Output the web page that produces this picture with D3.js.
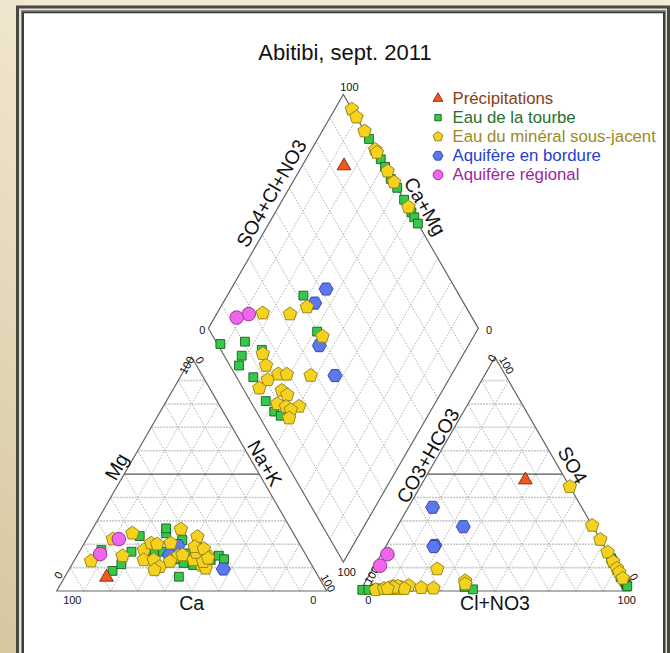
<!DOCTYPE html>
<html>
<head>
<meta charset="utf-8">
<script src="https://cdn.jsdelivr.net/npm/d3@7"></script>
<style>
  html, body { margin: 0; padding: 0; background: #fff; }
  svg { display: block; }
  text { font-family: "Liberation Sans", Arial, Helvetica, sans-serif; }
</style>
</head>
<body>
<svg id="chart" width="670" height="653"></svg>
<script>
// Piper diagram, Abitibi, September 2011.
// Each sample row: [Ca, Mg, Na+K, CO3+HCO3, SO4, Cl+NO3] in % of meq/L.
const groupNames = ["Précipitations", "Eau de la tourbe", "Eau du minéral sous-jacent",
                    "Aquifère en bordure", "Aquifère régional"];

const precipitations = [
  [78.6, 5.9, 15.5, 15.0, 47.5, 37.5]
];

const eauTourbe = [
  [57.5, 23.5, 19.0, 0.0, 13.0, 87.0],
  [55.5, 16.8, 27.7, 0.0, 14.0, 86.0],
  [52.3, 16.8, 30.9, 0.0, 12.0, 88.0],
  [42.6, 21.8, 35.6, 0.5, 6.0, 93.5],
  [44.0, 16.1, 39.9, 0.0, 9.0, 91.0],
  [43.9, 11.1, 45.0, 0.0, 4.0, 96.0],
  [36.3, 13.3, 50.4, 0.0, 3.0, 97.0],
  [32.4, 15.1, 52.5, 0.0, 2.5, 97.5],
  [31.2, 13.6, 55.2, 0.0, 2.0, 98.0],
  [47.1, 24.7, 28.2, 57.8, 0.7, 41.5],
  [47.0, 12.0, 41.0, 60.4, 1.8, 37.8],
  [74.7, 17.5, 7.8, 98.9, 0.5, 0.6],
  [75.0, 8.6, 16.4, 89.3, 1.0, 9.7],
  [58.5, 17.1, 24.4, 84.8, 1.5, 13.7],
  [70.3, 11.5, 18.2, 93.5, 0.5, 6.0],
  [63.9, 16.8, 19.3, 96.6, 0.5, 2.9],
  [46.1, 26.8, 27.1, 93.8, 1.0, 5.2],
  [49.6, 13.6, 36.8, 94.3, 0.5, 5.2],
  [51.7, 6.1, 42.2, 93.4, 1.0, 5.6],
  [40.5, 14.0, 45.5, 91.9, 1.0, 7.1]
];

const eauMineral = [
  [80.9, 12.8, 6.3, 0.0, 28.0, 72.0],
  [68.1, 22.2, 9.7, 0.0, 44.6, 55.4],
  [59.6, 24.7, 15.7, 0.0, 22.0, 78.0],
  [58.9, 17.5, 23.6, 0.0, 16.6, 83.4],
  [54.8, 20.4, 24.8, 0.0, 12.5, 87.5],
  [40.8, 26.4, 32.8, 0.0, 9.7, 90.3],
  [47.5, 15.0, 37.5, 0.0, 8.0, 92.0],
  [40.8, 11.0, 48.2, 0.0, 5.4, 94.6],
  [47.6, 20.4, 32.0, 58.9, 4.3, 36.8],
  [52.8, 20.0, 27.2, 66.7, 9.4, 23.9],
  [68.1, 15.0, 16.9, 76.6, 1.4, 22.0],
  [42.7, 13.3, 44.0, 59.5, 3.0, 37.5],
  [61.1, 13.3, 25.6, 85.3, 1.0, 13.7],
  [57.4, 13.3, 29.3, 86.6, 2.0, 11.4],
  [56.6, 10.4, 33.0, 89.0, 1.0, 10.0],
  [51.7, 12.6, 35.7, 83.9, 1.5, 14.6],
  [45.7, 15.4, 38.9, 80.8, 2.3, 16.9],
  [36.6, 15.4, 48.0, 72.2, 1.2, 26.6],
  [59.3, 9.0, 31.7, 93.9, 0.5, 5.6],
  [36.3, 23.2, 40.5, 86.1, 1.0, 12.9],
  [40.1, 16.4, 43.5, 85.0, 2.0, 13.0],
  [39.4, 18.9, 41.7, 90.6, 1.0, 8.4],
  [36.5, 18.0, 45.5, 88.0, 1.5, 10.5],
  [40.0, 9.7, 50.3, 83.1, 1.0, 15.9],
  [39.5, 12.5, 48.0, 86.9, 1.5, 11.6],
  [36.9, 14.0, 49.1, 89.3, 1.0, 9.7]
];

const aquifereBordure = [
  [45.4, 19.4, 35.2, 48.0, 27.5, 24.5],
  [50.6, 15.4, 34.0, 55.2, 35.8, 9.0],
  [37.4, 17.8, 44.8, 62.6, 19.5, 17.9],
  [33.6, 9.4, 57.0, 63.2, 19.0, 17.8]
];

const aquifereRegional = [
  [65.9, 22.2, 11.9, 82.0, 15.7, 2.3],
  [76.0, 15.8, 8.2, 87.2, 10.8, 2.0]
];

const tickLabels = ["0", "100"];
const axisTitles = {
  ca: "Ca", mg: "Mg", nak: "Na+K",
  hco3: "CO3+HCO3", so4: "SO4", cl: "Cl+NO3",
  anions: "SO4+Cl+NO3", cations: "Ca+Mg"
};

// ---- appearance -------------------------------------------------------
const groupStyle = [
  { data: precipitations,  shape: "triangle", fill: "#ee5a1e", stroke: "#7a2e0a", text: "#8a3c12" },
  { data: eauTourbe,       shape: "square",   fill: "#36c84a", stroke: "#1b5e20", text: "#26702a" },
  { data: eauMineral,      shape: "pentagon", fill: "#f4d21f", stroke: "#8e7d12", text: "#9c8a1c" },
  { data: aquifereBordure, shape: "hexagon",  fill: "#5b78f0", stroke: "#2c3f9e", text: "#2340d0" },
  { data: aquifereRegional,shape: "circle",   fill: "#f065ee", stroke: "#8e2a8c", text: "#a0269e" }
];
const drawOrder = [1, 3, 2, 4, 0];

const W = 670, H = 653;
const svg = d3.select("#chart");

// Geometry in triangle-side units; y grows upward.
const h = Math.sqrt(3) / 2;
const gap = 33.3 / 270;
const x = d3.scaleLinear().domain([0, 1]).range([56.7, 326.7]);
const y = d3.scaleLinear().domain([0, 1]).range([591, 321]);
const px = p => [x(p[0]), y(p[1])];

const rightOx = 1 + gap;
const dBottom = [1 + gap / 2, gap * h];
// a = SO4+Cl fraction, m = Ca+Mg fraction
const diamondPt = (a, m) => [dBottom[0] + (a - m) / 2, dBottom[1] + (a + m) * h];

const cationXY = r => px([r[2] / 100 + r[1] / 200, r[1] / 100 * h]);
const anionXY = r => px([rightOx + r[5] / 100 + r[4] / 200, r[4] / 100 * h]);
const diamondXY = r => px(diamondPt((r[4] + r[5]) / 100, (r[0] + r[1]) / 100));

// ---- background and frame ---------------------------------------------
const defs = svg.append("defs");
const grad = defs.append("linearGradient").attr("id", "bg")
  .attr("x1", "100%").attr("y1", "0%").attr("x2", "0%").attr("y2", "100%");
grad.append("stop").attr("offset", "0%").attr("stop-color", "#f2ead4");
grad.append("stop").attr("offset", "45%").attr("stop-color", "#f3e9d3");
grad.append("stop").attr("offset", "100%").attr("stop-color", "#d6c79f");

svg.append("rect").attr("width", W).attr("height", H).attr("fill", "url(#bg)");
svg.append("rect").attr("x", 17.5).attr("y", 7).attr("width", 651).attr("height", 700)
  .attr("fill", "#ebe2c9").attr("stroke", "#474747").attr("stroke-width", 3);
svg.append("rect").attr("x", 21.5).attr("y", 10.5).attr("width", 644).attr("height", 700)
  .attr("fill", "none").attr("stroke", "#8a8a8a").attr("stroke-width", 1);
svg.append("rect").attr("x", 23).attr("y", 12.3).attr("width", 641).attr("height", 700)
  .attr("fill", "#fff").attr("stroke", "#3c3c3c").attr("stroke-width", 2);

// ---- grids --------------------------------------------------------------
const grid = svg.append("g");
const line = (p, q, cls) => {
  const a = px(p), b = px(q);
  const l = grid.append("line").attr("x1", a[0]).attr("y1", a[1]).attr("x2", b[0]).attr("y2", b[1]);
  if (cls === "h") l.attr("stroke", "#c8c8c8").attr("stroke-width", 1.6).attr("stroke-dasharray", "2,1");
  else if (cls === "mid") l.attr("stroke", "#555").attr("stroke-width", 1.1);
  else l.attr("stroke", "#9a9a9a").attr("stroke-width", 0.8).attr("stroke-dasharray", "1.5,1.5");
  return l;
};
const steps = d3.range(1, 10).map(i => i / 10);

[0, rightOx].forEach(ox => {
  steps.forEach(t => {
    line([ox + t, 0], [ox + t + (1 - t) / 2, (1 - t) * h], "d");
    line([ox + t, 0], [ox + t / 2, t * h], "d");
  });
  steps.forEach(t => {
    line([ox + t / 2, t * h], [ox + 1 - t / 2, t * h], Math.abs(t - 0.5) < 1e-9 ? "mid" : "h");
  });
});
steps.forEach(t => {
  line(diamondPt(t, 0), diamondPt(t, 1), "d");
  line(diamondPt(0, t), diamondPt(1, t), "d");
});

// outlines
const outline = pts => svg.append("path")
  .attr("d", "M" + pts.map(px).map(p => p.join(",")).join("L") + "Z")
  .attr("fill", "none").attr("stroke", "#666").attr("stroke-width", 1.2);
outline([[0, 0], [1, 0], [0.5, h]]);
outline([[rightOx, 0], [rightOx + 1, 0], [rightOx + 0.5, h]]);
outline([diamondPt(0, 0), diamondPt(1, 0), diamondPt(1, 1), diamondPt(0, 1)]);

// ---- labels ---------------------------------------------------------------
const lab = svg.append("g");
function txt(p, s, size, rot, color) {
  return lab.append("text")
    .attr("transform", `translate(${p[0]},${p[1]}) rotate(${rot || 0})`)
    .attr("text-anchor", "middle").attr("dominant-baseline", "central")
    .attr("font-size", size).attr("fill", color || "#111").text(s);
}
// point on an edge (pixel space) at fraction t, pushed off the edge by `off`
// along the left-hand normal of the p0 -> p1 direction
function edgePos(p0, p1, t, off) {
  const a = px(p0), b = px(p1);
  const dx = b[0] - a[0], dy = b[1] - a[1], L = Math.hypot(dx, dy);
  const nx = dy / L, ny = -dx / L;
  return [a[0] + dx * t + nx * off, a[1] + dy * t + ny * off];
}
const off = (p, dx, dy) => { const q = px(p); return [q[0] + dx, q[1] + dy]; };

const af = 19.5;
txt([x(0.5), y(0) + 12], axisTitles.ca, af);
txt([x(rightOx + 0.5), y(0) + 12], axisTitles.cl, af);
txt(edgePos([0, 0], [0.5, h], 0.51, 10.5), axisTitles.mg, af, -60);
txt(edgePos([0.5, h], [1, 0], 0.476, 10.5), axisTitles.nak, af, 60);
txt(edgePos([rightOx, 0], [rightOx + 0.5, h], 0.56, 9), axisTitles.hco3, af, -60);
txt(edgePos([rightOx + 0.5, h], [rightOx + 1, 0], 0.49, 13.5), axisTitles.so4, af, 60);
txt(edgePos(diamondPt(0, 1), diamondPt(1, 1), 0.55, 13.2), axisTitles.anions, af, -60);
txt(edgePos(diamondPt(1, 1), diamondPt(1, 0), 0.51, 15), axisTitles.cations, af, 60);

const tk = 11;
// cation triangle
txt(off([0, 0], 15.6, 9), tickLabels[1], tk);
txt(off([1, 0], -13.4, 9), tickLabels[0], tk);
txt(off([0, 0], 1.6, -16), tickLabels[0], tk, -60);
txt(off([0.5, h], -5, 8), tickLabels[1], tk, -60);
txt(off([0.5, h], 8.3, 3), tickLabels[0], tk, 60);
txt(off([1, 0], 1.6, -8), tickLabels[1], tk, 60);
// anion triangle
txt(off([rightOx, 0], 8.3, 9), tickLabels[0], tk);
txt(off([rightOx + 1, 0], -3.3, 9), tickLabels[1], tk);
txt(off([rightOx, 0], 11.7, -16), tickLabels[1], tk, -60);
txt(off([rightOx + 0.5, h], -3.3, 1), tickLabels[0], tk, -60);
txt(off([rightOx + 0.5, h], 11.7, 8), tickLabels[1], tk, 60);
txt(off([rightOx + 1, 0], 4, -14), tickLabels[0], tk, 60);
// diamond
txt(off(diamondPt(1, 1), 6, -7.4), tickLabels[1], tk);
txt(off(diamondPt(0, 1), -6, 2), tickLabels[0], tk);
txt(off(diamondPt(1, 0), 10.7, 2), tickLabels[0], tk);
txt(off(diamondPt(0, 0), 3.4, 10), tickLabels[1], tk);

// title
svg.append("text").attr("x", 345).attr("y", 52).attr("text-anchor", "middle")
  .attr("dominant-baseline", "central").attr("font-size", 22).attr("fill", "#111")
  .text("Abitibi, sept. 2011");

// ---- markers --------------------------------------------------------------
function polygonPath(n, r, rot) {
  const pts = d3.range(n).map(i => {
    const ang = rot + i * 2 * Math.PI / n;
    return [r * Math.cos(ang), r * Math.sin(ang)];
  });
  return "M" + pts.map(p => p.join(",")).join("L") + "Z";
}
function shapePath(shape, k) {
  switch (shape) {
    case "triangle": return d3.symbol().type(d3.symbolTriangle).size(82 * k * k)();
    case "square":   return d3.symbol().type(d3.symbolSquare).size(78 * k * k)();
    case "pentagon": return polygonPath(5, 7.1 * k, -Math.PI / 2);
    case "hexagon":  return polygonPath(6, 7.0 * k, 0);
    default:         return d3.symbol().type(d3.symbolCircle).size(145 * k * k)();
  }
}

const marks = svg.append("g");
drawOrder.forEach(gi => {
  const st = groupStyle[gi];
  const d = shapePath(st.shape, 1);
  [cationXY, anionXY, diamondXY].forEach(proj => {
    marks.selectAll(null).data(st.data).enter().append("path")
      .attr("d", d)
      .attr("transform", r => `translate(${proj(r).join(",")})`)
      .attr("fill", st.fill).attr("stroke", st.stroke).attr("stroke-width", 0.9);
  });
});

// ---- legend ---------------------------------------------------------------
const legend = svg.append("g").attr("transform", "translate(438,98.5)");
groupNames.forEach((name, i) => {
  const st = groupStyle[i];
  const row = legend.append("g").attr("transform", `translate(0,${i * 19.1})`);
  row.append("path").attr("d", shapePath(st.shape, 0.72))
    .attr("fill", st.fill).attr("stroke", st.stroke).attr("stroke-width", 0.9);
  row.append("text").attr("x", 14.5).attr("y", 0).attr("dominant-baseline", "central")
    .attr("font-size", 16.8).attr("fill", st.text).text(name);
});
</script>
</body>
</html>
